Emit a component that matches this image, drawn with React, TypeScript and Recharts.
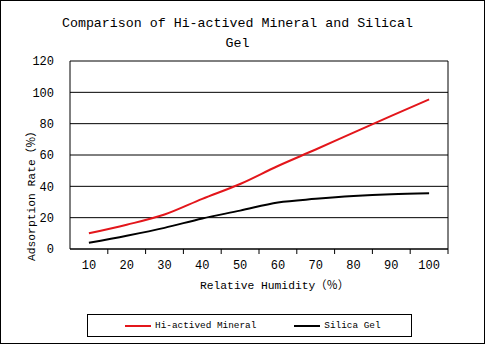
import React from "react";
import {
  LineChart,
  Line,
  XAxis,
  YAxis,
  CartesianGrid,
  Legend,
  ReferenceLine,
} from "recharts";

// Relative humidity categories (%)
const humidity = [10, 20, 30, 40, 50, 60, 70, 80, 90, 100];
// Adsorption rate (%)
const mineral = [10, 15.5, 22, 32, 41.5, 53, 63.5, 74.3, 85, 95.5];
const silica = [4, 8.5, 13.5, 19.5, 24.5, 29.7, 32, 33.8, 35, 35.6];
const yTicks = [0, 20, 40, 60, 80, 100, 120];

const seriesNames = ["Hi-actived Mineral", "Silica Gel"];
const seriesColors = ["#e3161b", "#000000"];

const data = humidity.map((h, i) => ({
  rh: h,
  mineral: mineral[i],
  silica: silica[i],
}));

const W = 487;
const H = 345;
const MONO = "'Liberation Mono', 'DejaVu Sans Mono', monospace";
const CJK = "'Liberation Mono', 'Noto Sans CJK SC', monospace";

// half a category band in px, for the Excel-style tick marks between categories
const PLOT_W = 378;
const HALF_BAND = PLOT_W / humidity.length / 2;

const XTick = (props: any) => {
  const { x, y, payload } = props;
  return (
    <g>
      <line x1={x + HALF_BAND} y1={y - 8} x2={x + HALF_BAND} y2={y - 3} stroke="#000" strokeWidth={1} />
      <text x={x} y={y + 12} textAnchor="middle" fontSize={12} fontFamily={MONO} fill="#000">
        {payload.value}
      </text>
    </g>
  );
};

const XTitle = (props: any) => {
  const vb = props.viewBox;
  return (
    <text
      x={vb.x + 130}
      y={vb.y + 40}
      textAnchor="start"
      fontFamily={CJK}
      fontSize={11.3}
      fill="#000"
    >
      Relative Humidity（％）
    </text>
  );
};

const YTitle = (props: any) => {
  const vb = props.viewBox;
  const x = vb.x + 35;
  const y = vb.y + vb.height + 12;
  return (
    <text
      x={x}
      y={y}
      transform={`rotate(-90 ${x} ${y})`}
      textAnchor="start"
      fontFamily={CJK}
      fontSize={11.3}
      fill="#000"
    >
      Adsorption Rate（％）
    </text>
  );
};

const LegendBox = () => (
  <div
    style={{
      width: 323,
      height: 21,
      border: "1px solid #000",
      display: "flex",
      alignItems: "center",
      fontFamily: MONO,
      fontSize: 9.4,
      color: "#000",
    }}
  >
    {seriesNames.map((n, i) => (
      <div
        key={n}
        style={{
          display: "flex",
          alignItems: "center",
          marginLeft: i === 0 ? 37 : 38,
        }}
      >
        <div style={{ width: 26, height: 2, background: seriesColors[i], marginRight: 4 }} />
        <span>{n}</span>
      </div>
    ))}
  </div>
);

export default function App() {
  return (
    <div
      style={{
        position: "absolute",
        left: 0,
        top: 0,
        width: W,
        height: H,
        background: "#fff",
      }}
    >
      <div
        style={{
          position: "absolute",
          left: 0,
          top: 0,
          width: 483,
          height: 342,
          border: "1px solid #000",
          boxSizing: "content-box",
        }}
      />
      <div
        style={{
          position: "absolute",
          left: 40,
          top: 14,
          width: 395,
          textAlign: "center",
          fontFamily: MONO,
          fontSize: 13.3,
          lineHeight: "20px",
          color: "#000",
        }}
      >
        Comparison of Hi-actived Mineral and Silical
        <br />
        Gel
      </div>
      <div style={{ position: "absolute", left: 0, top: 0 }}>
        <LineChart
          width={W}
          height={H}
          data={data}
          margin={{ top: 61, right: 39, left: 0, bottom: 28 }}
        >
          <CartesianGrid vertical={false} stroke="#000" strokeWidth={1} />
          <XAxis
            dataKey="rh"
            type="number"
            domain={[5, 105]}
            ticks={humidity}
            interval={0}
            height={45}
            axisLine={{ stroke: "#000", strokeWidth: 1 }}
            tickLine={false}
            tick={<XTick />}
            label={{ content: XTitle }}
          />
          <YAxis
            domain={[0, 120]}
            ticks={yTicks}
            interval={0}
            width={70}
            axisLine={{ stroke: "#000", strokeWidth: 1 }}
            tickLine={false}
            tickMargin={10}
            tick={{ fontSize: 12, fontFamily: MONO, fill: "#000" }}
            label={{ content: YTitle }}
          />
          <ReferenceLine x={105} stroke="#000" strokeWidth={1} />
          <Legend
            verticalAlign="bottom"
            content={() => <LegendBox />}
            wrapperStyle={{ left: 87, width: 325, height: 23, bottom: 8 }}
          />
          <Line
            type="monotone"
            dataKey="mineral"
            name={seriesNames[0]}
            stroke={seriesColors[0]}
            strokeWidth={2}
            dot={false}
            isAnimationActive={false}
          />
          <Line
            type="monotone"
            dataKey="silica"
            name={seriesNames[1]}
            stroke={seriesColors[1]}
            strokeWidth={2}
            dot={false}
            isAnimationActive={false}
          />
        </LineChart>
      </div>
    </div>
  );
}
